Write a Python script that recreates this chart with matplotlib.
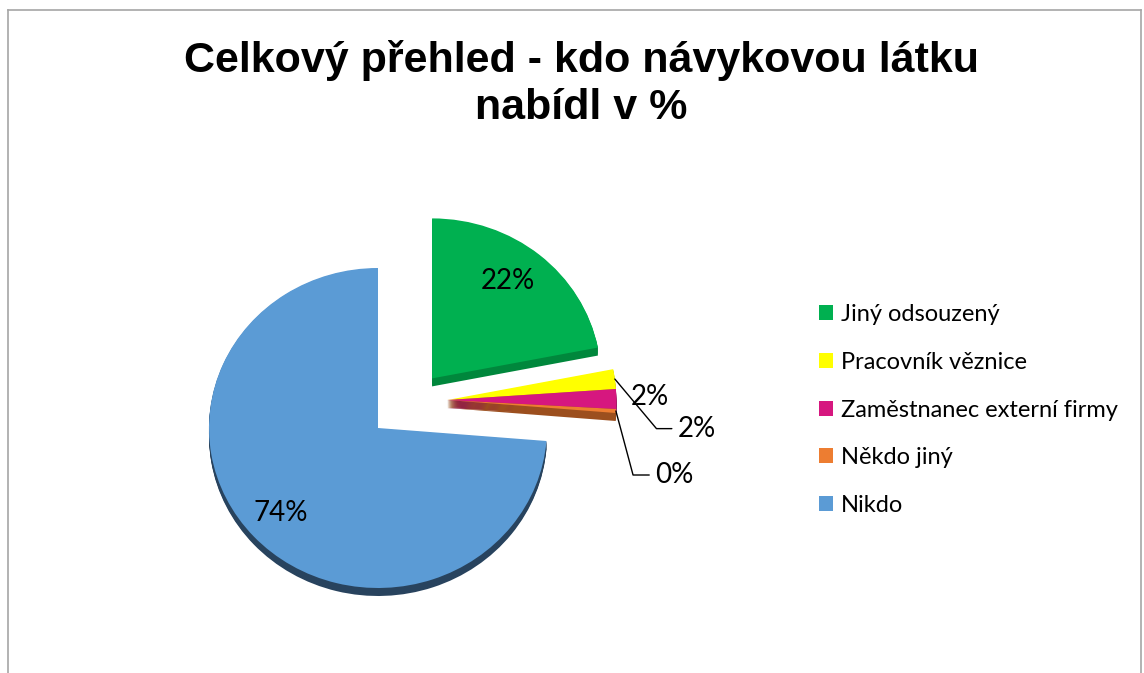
import numpy as np
import matplotlib
matplotlib.use("Agg")
import matplotlib.pyplot as plt
from matplotlib.patches import Wedge, Patch
from matplotlib.lines import Line2D

# Data
categories = ["Jiný odsouzený", "Pracovník věznice", "Zaměstnanec externí firmy", "Někdo jiný", "Nikdo"]
values = [22, 2, 2, 0.4, 74]
slice_colors = ["#00B050", "#FFFF00", "#D6177F", "#ED7D31", "#5B9BD5"]
side_colors = ["#00873C", "#B3B300", "#8E1054", "#9C4F1E", "#28435E"]
# where each slice is pulled out to (x, y), in pie radii
offsets = [(0.32, 0.31), (0.41, 0.175), (0.41, 0.175), (0.41, 0.175), (0.0, 0.0)]
title = "Celkový přehled - kdo návykovou látku\nnabídl v %"

W, H = 1144, 673
fig = plt.figure(figsize=(W / 100, H / 100), dpi=100)

# chart frame
fig.add_artist(Line2D([8 / W, 8 / W], [0, 1 - 10 / H], color="#A6A6A6", lw=1.2))
fig.add_artist(Line2D([8 / W, 1141 / W], [1 - 10 / H, 1 - 10 / H], color="#A6A6A6", lw=1.2))
fig.add_artist(Line2D([1141 / W, 1141 / W], [0, 1 - 10 / H], color="#A6A6A6", lw=1.2))

# axes placed so that r=1 is ~169px wide and ~160px tall (slight tilt)
ax = fig.add_axes([150 / W, 33 / H, 600 / W, 460 / H])

wedges, texts, autotexts = ax.pie(values, colors=slice_colors,
                                  startangle=90, counterclock=False,
                                  autopct="%.0f%%", pctdistance=0.62,
                                  textprops=dict(fontsize=20, family="Lato"),
                                  wedgeprops=dict(linewidth=0))
ax.set_aspect("auto")
ax.set_xlim(-1.349, 2.201)
ax.set_ylim(-1.325, 1.55)
ax.axis("off")

# pull slices out, and fake 3D depth with darker copies shifted downward
depth = 0.05
for w, sc, off in zip(wedges, side_colors, offsets):
    w.set_center(off)
    w.set_zorder(3)
    for k in np.linspace(depth, 0.005, 8):
        ax.add_patch(Wedge((off[0], off[1] - k), w.r, w.theta1, w.theta2,
                           facecolor=sc, lw=0, zorder=2))

for t in autotexts:
    t.set_color("black")
    t.set_zorder(5)

def slice_point(w, frac=1.0, ang=None):
    if ang is None:
        ang = (w.theta1 + w.theta2) / 2
    ang = np.deg2rad(ang)
    cx, cy = w.center
    return cx + w.r * frac * np.cos(ang), cy + w.r * frac * np.sin(ang)

# 22% and 74% inside
autotexts[0].set_position(slice_point(wedges[0], 0.76, 53.6))
autotexts[4].set_position(slice_point(wedges[4], 0.78))

# Pracovník věznice -> leader line
x1, y1 = slice_point(wedges[1], 1.0)
autotexts[1].set_visible(False)
ax.annotate(autotexts[1].get_text(), xy=(x1, y1), xytext=(x1 + 0.37, y1 - 0.31),
            fontsize=20, family="Lato", va="center", ha="left", zorder=5,
            arrowprops=dict(arrowstyle="-", color="black", lw=1, shrinkA=2, shrinkB=0,
                            connectionstyle="angle,angleA=0,angleB=-50,rad=0"))

# Zaměstnanec externí firmy -> plain label
x2, y2 = slice_point(wedges[2], 1.0, wedges[2].theta2)
autotexts[2].set_position((x2 + 0.09, y2 - 0.05))
autotexts[2].set_ha("left")
autotexts[2].set_va("center")

# Někdo jiný -> leader line
x3, y3 = slice_point(wedges[3], 1.0)
autotexts[3].set_visible(False)
ax.annotate(autotexts[3].get_text(), xy=(x3, y3), xytext=(x3 + 0.23, y3 - 0.40),
            fontsize=20, family="Lato", va="center", ha="left", zorder=5,
            arrowprops=dict(arrowstyle="-", color="black", lw=1, shrinkA=2, shrinkB=0,
                            connectionstyle="angle,angleA=0,angleB=-75,rad=0"))

# title
fig.text(581 / W, 1 - 84 / H, title, ha="center", va="center", fontsize=31,
         fontweight="bold", family="Liberation Sans", linespacing=1.2)

# legend
handles = [Patch(facecolor=c, edgecolor="none") for c in slice_colors]
fig.legend(handles, categories, loc="upper left", bbox_to_anchor=(798 / W, 1 - 283 / H),
           frameon=False, prop=dict(family="Lato", size=17), handlelength=0.6,
           handleheight=0.6, handletextpad=0.3, labelspacing=1.13)

fig.savefig("out.png", dpi=100)
